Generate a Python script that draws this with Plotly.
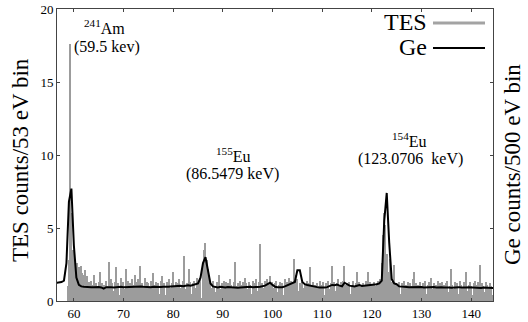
import numpy as np
import plotly.graph_objects as go

# ---------------- data ----------------
TES_START = 58.5      # keV, first bin centre
TES_BIN = 0.25        # keV
tes_counts = [
    0, 1.0, 2.8, 17.6, 6.0, 3.5,
    3.0, 2.5, 2.2, 2.6, 2.3, 2.0, 2.4, 1.9, 1.8, 2.1, 1.5, 1.7, 1.3, 0.9, 1.4, 1.1, 1.8, 0.6, 1.2, 1.0,
    1.3, 2.0, 0.8, 1.2, 1.1, 0.3, 1.4, 1.0, 2.7, 0.9, 1.5, 1.2, 0.7, 1.3, 2.3, 1.0, 1.2, 0.4, 1.6, 1.1,
    1.3, 0.8, 2.2, 1.0, 1.4, 1.2, 0.5, 1.5, 1.1, 1.8, 0.9, 1.3, 1.5, 2.4, 0.7, 1.2, 1.0, 1.6, 0.3, 1.3,
    1.2, 1.0, 1.4, 0.6, 1.9, 1.1, 1.3, 0.8, 1.2, 0.5, 1.4, 1.7, 1.0, 1.2, 0.4, 1.3, 1.1, 1.5, 0.9, 1.2,
    2.0, 1.0, 1.3, 0.7, 1.2, 1.5, 0.9, 1.1, 1.4, 3.1, 0.8, 1.2, 1.0, 2.2, 1.3, 0.5, 1.2, 1.4, 0.9, 1.6,
    1.1, 1.3, 1.6, 0.2, 2.4, 3.5, 4.0, 2.8, 2.2, 1.6, 1.2, 0.9, 1.4, 1.0, 0.6, 1.3, 1.1, 1.8, 0.8, 1.2,
    1.0, 1.4, 0.7, 1.3, 1.2, 0.4, 1.5, 1.1, 0.9, 1.3, 2.7, 1.0, 1.2, 0.6, 1.4, 1.1, 1.3, 0.9, 1.6, 1.2,
    0.8, 1.3, 1.1, 0.5, 1.4, 1.2, 1.0, 1.5, 0.7, 1.3, 3.9, 1.1, 1.2, 0.9, 1.4, 0.3, 1.5, 1.2, 1.7, 1.1,
    1.3, 0.9, 1.2, 1.4, 0.6, 1.1, 1.3, 1.0, 1.2, 0.4, 1.5, 1.1, 1.3, 1.6, 0.9, 1.4, 1.2, 2.9, 1.8, 1.3,
    1.5, 0.7, 1.2, 1.0, 1.3, 0.9, 1.1, 0.5, 1.4, 1.2, 2.3, 1.0, 0.8, 1.3, 1.1, 0.6, 1.2, 1.0, 1.4, 0.9,
    1.1, 1.3, 0.4, 1.2, 1.0, 1.4, 0.8, 1.2, 2.4, 1.1, 1.3, 0.7, 1.2, 1.5, 1.0, 1.3, 0.6, 1.4, 2.4, 1.1,
    1.2, 0.9, 1.3, 0.5, 1.1, 1.4, 1.0, 1.2, 2.0, 0.8, 1.3, 1.1, 0.4, 1.2, 1.0, 1.4, 1.2, 2.0, 0.9, 1.3,
    1.1, 0.6, 1.3, 1.0, 1.2, 1.4, 0.8, 1.5, 2.6, 4.5, 6.0, 5.2, 3.2, 2.0, 1.6, 2.9, 1.3, 1.0, 2.5, 1.2,
    1.1, 0.8, 1.3, 0.5, 1.2, 1.0, 1.4, 0.9, 1.1, 1.3, 0.4, 1.2, 1.0, 1.5, 2.0, 0.8, 1.2, 1.1, 0.6, 1.3,
    1.0, 1.2, 0.9, 1.4, 0.5, 1.1, 1.3, 1.0, 1.6, 0.8, 1.2, 0.3, 1.1, 1.4, 1.0, 1.2, 0.7, 1.3, 1.1, 0.9,
    1.2, 1.4, 0.6, 1.0, 2.2, 1.1, 0.8, 1.3, 1.0, 1.2, 0.5, 1.4, 1.1, 0.9, 1.3, 1.2, 2.0, 0.7, 1.1, 1.3,
    1.0, 0.4, 1.2, 1.4, 0.9, 1.1, 1.3, 2.5, 0.8, 1.2, 1.0, 0.6, 1.3, 1.1, 0.9, 1.2, 1.0, 0.4,
]

GE_START = 56.5       # keV
GE_BIN = 0.5          # keV
ge_counts = [
    1.25, 1.27, 1.3, 1.4, 2.6, 6.8, 7.7,
    3.8, 1.6, 1.1, 1.0, 0.97, 0.95, 0.96, 0.94, 0.95, 0.97,
    0.96, 0.93, 0.85, 0.95, 0.97, 0.95, 0.93, 0.96, 0.95, 0.97,
    0.95, 0.96, 0.98, 0.94, 0.96, 0.99, 1.02, 1.0, 0.97, 0.95,
    0.96, 0.94, 0.97, 0.95, 0.93, 0.96, 0.98, 0.95, 0.97, 1.0,
    1.02, 1.0, 1.03, 1.05, 1.02, 1.06, 1.08, 1.05, 1.1, 1.15,
    1.2, 1.6, 2.6, 3.0, 2.0, 1.2, 1.0, 0.95, 0.93, 0.97,
    0.95, 0.92, 0.96, 0.94, 0.97, 0.95, 0.9, 0.93, 0.95, 0.96,
    0.94, 0.97, 0.95, 0.93, 0.96, 0.98, 1.0, 1.05, 1.15, 1.25,
    1.1, 0.98, 0.95, 0.93, 0.95, 1.0, 1.08, 1.15, 1.2, 1.3,
    2.1, 2.1, 1.3, 1.15, 1.1, 1.05, 1.0, 0.97, 0.95, 0.92,
    0.9, 0.93, 0.95, 1.05, 1.1, 1.08, 1.12, 1.05, 1.0, 1.25,
    1.15, 1.05, 1.02, 1.0, 1.05, 1.1, 1.03, 1.05, 1.08, 1.1,
    1.12, 1.1, 1.15, 1.2, 1.4, 5.5, 7.4, 4.0, 1.5, 1.2,
    1.15, 1.0, 0.97, 0.95, 0.96, 0.94, 0.95, 0.93, 0.95, 0.94,
    0.96, 0.93, 0.95, 0.92, 0.94, 0.96, 0.93, 0.95, 0.94, 0.92,
    0.95, 0.93, 0.91, 0.94, 0.92, 0.95, 0.93, 0.9, 0.92, 0.94,
    0.92, 0.9, 0.93, 0.91, 0.89, 0.92, 0.9, 0.88, 0.9, 0.89,
]

x_ticks = [60, 70, 80, 90, 100, 110, 120, 130, 140]
y_ticks = [0, 5, 10, 15, 20]

tes_x = TES_START + TES_BIN * np.arange(len(tes_counts))
ge_x = GE_START + GE_BIN * np.arange(len(ge_counts))

SERIF = "Liberation Serif, Times New Roman, serif"
L, R, T, B, W, H = 57, 35, 9, 21, 528, 322
PW, PH = W - L - R, H - T - B


def px(x):
    return (x - L) / PW


def py(y):
    return 1 - (y - T) / PH


fig = go.Figure()
fig.add_trace(go.Bar(
    x=tes_x, y=tes_counts, width=TES_BIN,
    marker=dict(color="#9c9c9c", line=dict(width=0)),
    name="TES", showlegend=False,
))
fig.add_trace(go.Scatter(
    x=ge_x, y=ge_counts, mode="lines",
    line=dict(color="black", width=2),
    name="Ge", showlegend=False,
))

fig.update_layout(
    template="none",
    width=W, height=H,
    margin=dict(l=L, r=R, t=T, b=B, pad=0),
    paper_bgcolor="white", plot_bgcolor="white",
    bargap=0,
    font=dict(family=SERIF, color="black"),
)
fig.update_xaxes(
    range=[56.6, 144.4], tickvals=x_ticks, ticks="inside", ticklen=3,
    showline=True, linecolor="#444", linewidth=1, mirror="ticks",
    showgrid=False, zeroline=False, tickfont=dict(size=13, family=SERIF),
    tickcolor="#444", automargin=False,
)
fig.update_yaxes(
    range=[0, 20], tickvals=y_ticks, ticks="inside", ticklen=3,
    showline=True, linecolor="#444", linewidth=1, mirror="ticks",
    showgrid=False, zeroline=False, tickfont=dict(size=13, family=SERIF),
    tickcolor="#444", automargin=False,
)

# axis titles
fig.add_annotation(text="TES counts/53 eV bin", xref="paper", yref="paper",
                   x=px(20), y=py(160), textangle=-90, showarrow=False,
                   font=dict(size=23, family=SERIF), xanchor="center", yanchor="middle")
fig.add_annotation(text="Ge counts/500 eV bin", xref="paper", yref="paper",
                   x=px(512), y=py(165), textangle=-90, showarrow=False,
                   font=dict(size=23, family=SERIF), xanchor="center", yanchor="middle")

# peak annotations
ann = [
    ("<sup>241</sup>Am", 104, 27), ("(59.5 kev)", 107, 47),
    ("<sup>155</sup>Eu", 233, 155), ("(86.5479 keV)", 232, 174),
    ("<sup>154</sup>Eu", 409, 140), ("(123.0706  keV)", 410, 159),
]
for txt, x0, y0 in ann:
    fig.add_annotation(text=txt, xref="paper", yref="paper",
                       x=px(x0), y=py(y0),
                       showarrow=False, font=dict(size=16, family=SERIF),
                       xanchor="center", yanchor="middle")

# legend (manual)
for label, color, ly, lw in [("TES", "#a3a3a3", 23, 3), ("Ge", "black", 48, 2)]:
    fig.add_annotation(text=label, xref="paper", yref="paper",
                       x=px(429), y=py(ly - 1), showarrow=False,
                       font=dict(size=24, family=SERIF), xanchor="right", yanchor="middle")
    fig.add_shape(type="line", xref="paper", yref="paper",
                  x0=px(433), x1=px(485), y0=py(ly), y1=py(ly),
                  line=dict(color=color, width=lw))

fig.write_html("out.html", config={"displayModeBar": False},
               post_script="document.body.style.margin='0';")
